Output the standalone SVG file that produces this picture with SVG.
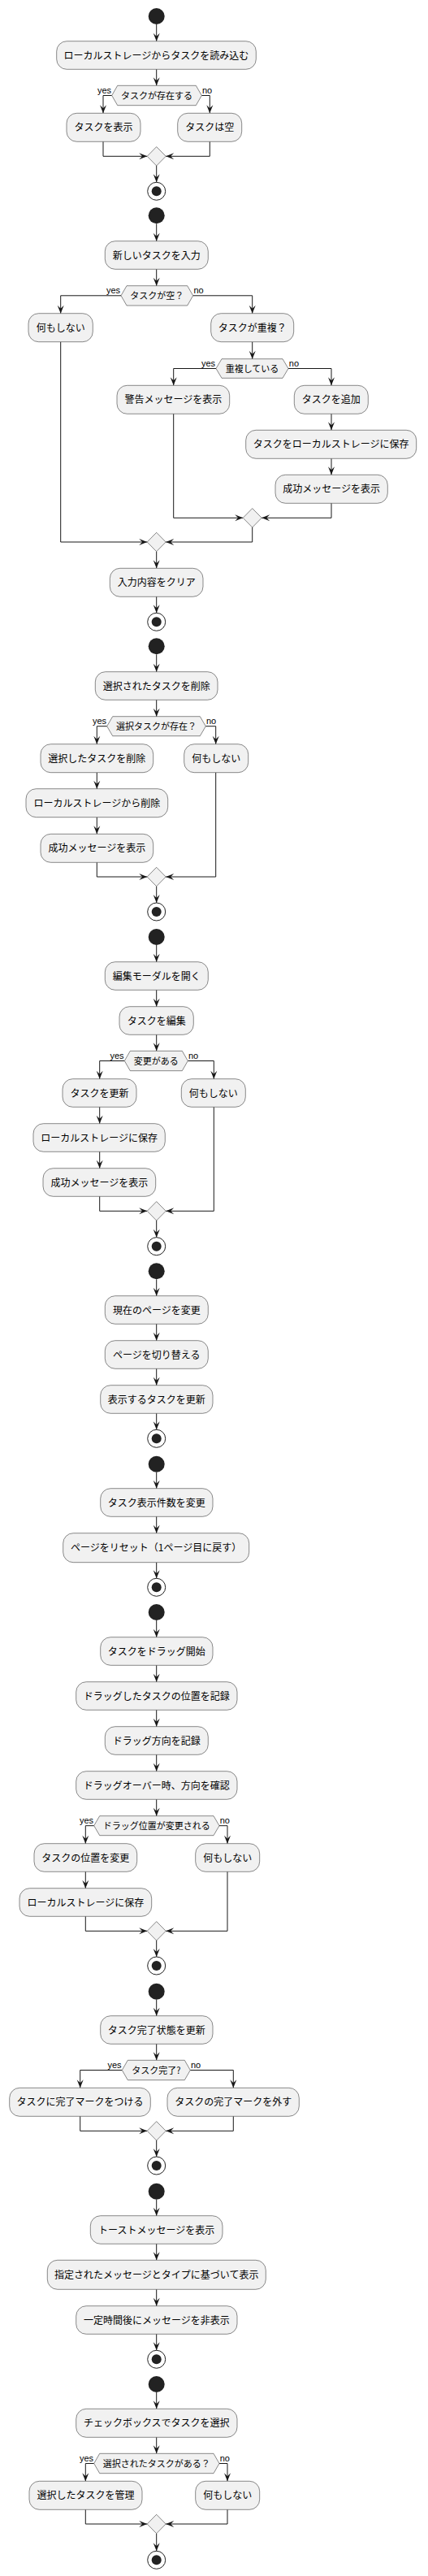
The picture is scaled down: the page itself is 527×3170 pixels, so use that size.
<svg xmlns="http://www.w3.org/2000/svg" width="527" height="3170" viewBox="0 0 527 3170">
<style>
.a{fill:#F1F1F1;stroke:#181818;stroke-width:0.5}
.t{font-family:"Noto Sans CJK JP","Noto Sans",sans-serif;font-size:12px;fill:#000;text-anchor:middle}
.h{font-family:"Noto Sans CJK JP","Noto Sans",sans-serif;font-size:11px;fill:#000;text-anchor:middle}
.l{font-family:"Liberation Sans",Arial,sans-serif;font-size:11px;fill:#000}
.r{text-anchor:end}
.s{fill:#222222}
.e{fill:none;stroke:#222222;stroke-width:1}
.c path{fill:none;stroke:#181818;stroke-width:1;marker-end:url(#ah)}
</style>
<defs>
<marker id="ah" markerUnits="userSpaceOnUse" markerWidth="10" markerHeight="8" refX="10" refY="4" orient="auto" overflow="visible">
<path d="M0,0 L10,4 L0,8 L4,4 Z" fill="#181818"/>
</marker>
</defs>
<g class="c" id="connectors">
<path d="M192.7,30 V50.7"/>
<path d="M192.7,85.3 V105.3"/>
<path d="M137.7,117.5 H127 V139.3"/>
<path d="M248.3,117.5 H258.3 V139.3"/>
<path d="M127,174.3 V192.3 H181.2"/>
<path d="M258.3,174.3 V192.3 H204.2"/>
<path d="M192.7,204 V224.3"/>

<path d="M192.7,275.3 V296.7"/>
<path d="M192.7,331.3 V351.7"/>
<path d="M149,363.8 H74.7 V385.7"/>
<path d="M237.7,363.8 H310.7 V385.7"/>
<path d="M310.7,420.7 V441.7"/>
<path d="M266,453.5 H213.7 V474.3"/>
<path d="M355,453.5 H408 V474.3"/>
<path d="M408,509.3 V529.3"/>
<path d="M408,564.3 V584.3"/>
<path d="M408,619.3 V637.3 H322.2"/>
<path d="M213.7,509.3 V637.3 H299.2"/>
<path d="M310.7,649 V667 H204.2"/>
<path d="M74.7,420.7 V667 H181.2"/>
<path d="M192.7,678.7 V699.3"/>
<path d="M192.7,734.3 V754.3"/>

<path d="M192.7,805.3 V826.7"/>
<path d="M192.7,861.3 V881.7"/>
<path d="M131.7,893.7 H119.3 V915.7"/>
<path d="M253.3,893.7 H265.7 V915.7"/>
<path d="M119.3,950.7 V970.7"/>
<path d="M119.3,1005.7 V1026.3"/>
<path d="M119.3,1061.3 V1079 H181.2"/>
<path d="M265.7,950.7 V1079 H204.2"/>
<path d="M192.7,1090.7 V1111"/>

<path d="M192.7,1163 V1183.7"/>
<path d="M192.7,1218.3 V1238.7"/>
<path d="M192.7,1273.3 V1293.3"/>
<path d="M153.3,1305.5 H122.7 V1327.7"/>
<path d="M231.3,1305.5 H263.3 V1327.7"/>
<path d="M122.7,1362.3 V1382.7"/>
<path d="M122.7,1417.3 V1437.7"/>
<path d="M122.7,1472.3 V1490.3 H181.2"/>
<path d="M263.3,1362.3 V1490.3 H204.2"/>
<path d="M192.7,1502 V1522.7"/>

<path d="M192.7,1574.3 V1594.7"/>
<path d="M192.7,1629.3 V1649.7"/>
<path d="M192.7,1684.3 V1704.7"/>
<path d="M192.7,1739.3 V1759.3"/>

<path d="M192.7,1811.7 V1831.7"/>
<path d="M192.7,1866.3 V1886.7"/>
<path d="M192.7,1922.7 V1942.3"/>

<path d="M192.7,1994 V2014.7"/>
<path d="M192.7,2049.3 V2069.7"/>
<path d="M192.7,2104.3 V2124.7"/>
<path d="M192.7,2159.3 V2179.7"/>
<path d="M192.7,2214.3 V2234.7"/>
<path d="M115.7,2246.7 H105.3 V2268.7"/>
<path d="M270,2246.7 H280 V2268.7"/>
<path d="M105.3,2303.3 V2323.7"/>
<path d="M105.3,2358.3 V2376.3 H181.2"/>
<path d="M280,2303.3 V2376.3 H204.2"/>
<path d="M192.7,2388 V2408"/>

<path d="M192.7,2460.7 V2480.7"/>
<path d="M192.7,2515.3 V2535.3"/>
<path d="M150.3,2547.5 H98.7 V2569.3"/>
<path d="M234.3,2547.5 H287.3 V2569.3"/>
<path d="M98.7,2604.3 V2622.3 H181.2"/>
<path d="M287.3,2604.3 V2622.3 H204.2"/>
<path d="M192.7,2634 V2654"/>

<path d="M192.7,2706.7 V2726.7"/>
<path d="M192.7,2761.3 V2781.3"/>
<path d="M192.7,2817.3 V2837.7"/>
<path d="M192.7,2872.3 V2892.3"/>

<path d="M192.7,2944 V2964.3"/>
<path d="M192.7,2999.3 V3019.3"/>
<path d="M115.7,3031.5 H105.3 V3053.3"/>
<path d="M270,3031.5 H280 V3053.3"/>
<path d="M105.3,3088.3 V3106 H181.2"/>
<path d="M280,3088.3 V3106 H204.2"/>
<path d="M192.7,3117.7 V3139.3"/>
</g>

<!-- Section 1 -->
<g id="s1"><circle class="s" cx="192.7" cy="20" r="10"/></g>
<g id="a1"><rect class="a" x="69.7" y="50.7" width="245.6" height="34.6" rx="12.5"/><text class="t" x="192.5" y="72.6">ローカルストレージからタスクを読み込む</text></g>
<g id="d1"><polygon class="a" points="137.7,117.5 144.7,105.3 241.3,105.3 248.3,117.5 241.3,129.7 144.7,129.7"/><text class="h" x="193" y="121.5">タスクが存在する</text><text class="l r" x="137" y="114.5">yes</text><text class="l" x="249" y="114.5">no</text></g>
<g id="a2"><rect class="a" x="82" y="139.3" width="91" height="35" rx="12.5"/><text class="t" x="127.5" y="161.3">タスクを表示</text></g>
<g id="a3"><rect class="a" x="218.7" y="139.3" width="79" height="35" rx="12.5"/><text class="t" x="258.2" y="161.3">タスクは空</text></g>
<g id="m1"><polygon class="a" points="192.7,180.6 204.2,192.3 192.7,204 181.2,192.3"/></g>
<g id="e1"><circle class="e" cx="192.7" cy="235.3" r="11"/><circle class="s" cx="192.7" cy="235.3" r="6"/></g>

<!-- Section 2 -->
<g id="s2"><circle class="s" cx="192.7" cy="265.3" r="10"/></g>
<g id="a4"><rect class="a" x="129.3" y="296.7" width="127" height="34.6" rx="12.5"/><text class="t" x="192.8" y="318.6">新しいタスクを入力</text></g>
<g id="d2"><polygon class="a" points="149,363.8 156,351.7 230.7,351.7 237.7,363.8 230.7,376 156,376"/><text class="h" x="193.3" y="367.8">タスクが空？</text><text class="l r" x="148" y="360.8">yes</text><text class="l" x="238.5" y="360.8">no</text></g>
<g id="a5"><rect class="a" x="35" y="385.7" width="79.3" height="35" rx="12.5"/><text class="t" x="74.7" y="407.7">何もしない</text></g>
<g id="a6"><rect class="a" x="259.7" y="385.7" width="102" height="35" rx="12.5"/><text class="t" x="310.7" y="407.7">タスクが重複？</text></g>
<g id="d3"><polygon class="a" points="266,453.5 273,441.7 348,441.7 355,453.5 348,465.3 273,465.3"/><text class="h" x="310.5" y="457.5">重複している</text><text class="l r" x="265" y="450.5">yes</text><text class="l" x="355.8" y="450.5">no</text></g>
<g id="a7"><rect class="a" x="144" y="474.3" width="138.7" height="35" rx="12.5"/><text class="t" x="213.4" y="496.3">警告メッセージを表示</text></g>
<g id="a8"><rect class="a" x="362.3" y="474.3" width="91" height="35" rx="12.5"/><text class="t" x="407.8" y="496.3">タスクを追加</text></g>
<g id="a9"><rect class="a" x="302.7" y="529.3" width="210" height="35" rx="12.5"/><text class="t" x="407.7" y="551.3">タスクをローカルストレージに保存</text></g>
<g id="a10"><rect class="a" x="339" y="584.3" width="138.3" height="35" rx="12.5"/><text class="t" x="408.2" y="606.3">成功メッセージを表示</text></g>
<g id="m2"><polygon class="a" points="310.7,625.6 322.2,637.3 310.7,649 299.2,637.3"/></g>
<g id="m3"><polygon class="a" points="192.7,655.3 204.2,667 192.7,678.7 181.2,667"/></g>
<g id="a11"><rect class="a" x="135.3" y="699.3" width="114.7" height="35" rx="12.5"/><text class="t" x="192.7" y="721.3">入力内容をクリア</text></g>
<g id="e2"><circle class="e" cx="192.7" cy="765.3" r="11"/><circle class="s" cx="192.7" cy="765.3" r="6"/></g>

<!-- Section 3 -->
<g id="s3"><circle class="s" cx="192.7" cy="795.3" r="10"/></g>
<g id="a12"><rect class="a" x="117.3" y="826.7" width="150.7" height="34.6" rx="12.5"/><text class="t" x="192.7" y="848.6">選択されたタスクを削除</text></g>
<g id="d4"><polygon class="a" points="131.7,893.7 138.7,881.7 246.3,881.7 253.3,893.7 246.3,905.7 138.7,905.7"/><text class="h" x="192.5" y="897.7">選択タスクが存在？</text><text class="l r" x="131" y="890.7">yes</text><text class="l" x="254" y="890.7">no</text></g>
<g id="a13"><rect class="a" x="50" y="915.7" width="138.7" height="35" rx="12.5"/><text class="t" x="119.3" y="937.7">選択したタスクを削除</text></g>
<g id="a14"><rect class="a" x="226.7" y="915.7" width="79" height="35" rx="12.5"/><text class="t" x="266.2" y="937.7">何もしない</text></g>
<g id="a15"><rect class="a" x="32" y="970.7" width="174.7" height="35" rx="12.5"/><text class="t" x="119.3" y="992.7">ローカルストレージから削除</text></g>
<g id="a16"><rect class="a" x="50" y="1026.3" width="138.7" height="35" rx="12.5"/><text class="t" x="119.3" y="1048.3">成功メッセージを表示</text></g>
<g id="m4"><polygon class="a" points="192.7,1067.3 204.2,1079 192.7,1090.7 181.2,1079"/></g>
<g id="e3"><circle class="e" cx="192.7" cy="1122" r="11"/><circle class="s" cx="192.7" cy="1122" r="6"/></g>

<!-- Section 4 -->
<g id="s4"><circle class="s" cx="192.7" cy="1153" r="10"/></g>
<g id="a17"><rect class="a" x="129.3" y="1183.7" width="127" height="34.6" rx="12.5"/><text class="t" x="192.8" y="1205.6">編集モーダルを開く</text></g>
<g id="a18"><rect class="a" x="147" y="1238.7" width="91.3" height="34.6" rx="12.5"/><text class="t" x="192.7" y="1260.6">タスクを編集</text></g>
<g id="d5"><polygon class="a" points="153.3,1305.5 160.3,1293.3 224.3,1293.3 231.3,1305.5 224.3,1317.7 160.3,1317.7"/><text class="h" x="192.3" y="1309.5">変更がある</text><text class="l r" x="152.6" y="1302.5">yes</text><text class="l" x="232" y="1302.5">no</text></g>
<g id="a19"><rect class="a" x="77" y="1327.7" width="91" height="34.6" rx="12.5"/><text class="t" x="122.5" y="1349.6">タスクを更新</text></g>
<g id="a20"><rect class="a" x="223.3" y="1327.7" width="79" height="34.6" rx="12.5"/><text class="t" x="262.8" y="1349.6">何もしない</text></g>
<g id="a21"><rect class="a" x="41" y="1382.7" width="162.3" height="34.6" rx="12.5"/><text class="t" x="122.2" y="1404.6">ローカルストレージに保存</text></g>
<g id="a22"><rect class="a" x="53" y="1437.7" width="138.7" height="34.6" rx="12.5"/><text class="t" x="122.3" y="1459.6">成功メッセージを表示</text></g>
<g id="m5"><polygon class="a" points="192.7,1478.6 204.2,1490.3 192.7,1502 181.2,1490.3"/></g>
<g id="e4"><circle class="e" cx="192.7" cy="1533.7" r="11"/><circle class="s" cx="192.7" cy="1533.7" r="6"/></g>

<!-- Section 5 -->
<g id="s5"><circle class="s" cx="192.7" cy="1564.3" r="10"/></g>
<g id="a23"><rect class="a" x="129.3" y="1594.7" width="127" height="34.6" rx="12.5"/><text class="t" x="192.8" y="1616.6">現在のページを変更</text></g>
<g id="a24"><rect class="a" x="129.3" y="1649.7" width="127" height="34.6" rx="12.5"/><text class="t" x="192.8" y="1671.6">ページを切り替える</text></g>
<g id="a25"><rect class="a" x="123.7" y="1704.7" width="138.3" height="34.6" rx="12.5"/><text class="t" x="192.8" y="1726.6">表示するタスクを更新</text></g>
<g id="e5"><circle class="e" cx="192.7" cy="1770.3" r="11"/><circle class="s" cx="192.7" cy="1770.3" r="6"/></g>

<!-- Section 6 -->
<g id="s6"><circle class="s" cx="192.7" cy="1801.7" r="10"/></g>
<g id="a26"><rect class="a" x="123.7" y="1831.7" width="138.3" height="34.6" rx="12.5"/><text class="t" x="192.8" y="1853.6">タスク表示件数を変更</text></g>
<g id="a27"><rect class="a" x="77.7" y="1886.7" width="229" height="36" rx="12.5"/><text class="t" x="192.2" y="1909.3">ページをリセット（1ページ目に戻す）</text></g>
<g id="e6"><circle class="e" cx="192.7" cy="1953.3" r="11"/><circle class="s" cx="192.7" cy="1953.3" r="6"/></g>

<!-- Section 7 -->
<g id="s7"><circle class="s" cx="192.7" cy="1984" r="10"/></g>
<g id="a28"><rect class="a" x="123.7" y="2014.7" width="138.3" height="34.6" rx="12.5"/><text class="t" x="192.8" y="2036.6">タスクをドラッグ開始</text></g>
<g id="a29"><rect class="a" x="93.7" y="2069.7" width="198.3" height="34.6" rx="12.5"/><text class="t" x="192.8" y="2091.6">ドラッグしたタスクの位置を記録</text></g>
<g id="a30"><rect class="a" x="129.3" y="2124.7" width="127" height="34.6" rx="12.5"/><text class="t" x="192.8" y="2146.6">ドラッグ方向を記録</text></g>
<g id="a31"><rect class="a" x="93.7" y="2179.7" width="198.3" height="34.6" rx="12.5"/><text class="t" x="192.8" y="2201.6">ドラッグオーバー時、方向を確認</text></g>
<g id="d6"><polygon class="a" points="115.7,2246.7 122.7,2234.7 263,2234.7 270,2246.7 263,2258.7 122.7,2258.7"/><text class="h" x="192.8" y="2250.7">ドラッグ位置が変更される</text><text class="l r" x="115" y="2243.7">yes</text><text class="l" x="270.7" y="2243.7">no</text></g>
<g id="a32"><rect class="a" x="42" y="2268.7" width="126.7" height="34.6" rx="12.5"/><text class="t" x="105.3" y="2290.6">タスクの位置を変更</text></g>
<g id="a33"><rect class="a" x="240.7" y="2268.7" width="79" height="34.6" rx="12.5"/><text class="t" x="280.2" y="2290.6">何もしない</text></g>
<g id="a34"><rect class="a" x="24" y="2323.7" width="162.7" height="34.6" rx="12.5"/><text class="t" x="105.3" y="2345.6">ローカルストレージに保存</text></g>
<g id="m6"><polygon class="a" points="192.7,2364.6 204.2,2376.3 192.7,2388 181.2,2376.3"/></g>
<g id="e7"><circle class="e" cx="192.7" cy="2419" r="11"/><circle class="s" cx="192.7" cy="2419" r="6"/></g>

<!-- Section 8 -->
<g id="s8"><circle class="s" cx="192.7" cy="2450.7" r="10"/></g>
<g id="a35"><rect class="a" x="123.7" y="2480.7" width="138.3" height="34.6" rx="12.5"/><text class="t" x="192.8" y="2502.6">タスク完了状態を更新</text></g>
<g id="d7"><polygon class="a" points="150.3,2547.5 157.3,2535.3 227.3,2535.3 234.3,2547.5 227.3,2559.7 157.3,2559.7"/><text class="h" x="192.3" y="2551.5">タスク完了?</text><text class="l r" x="149.6" y="2544.5">yes</text><text class="l" x="235" y="2544.5">no</text></g>
<g id="a36"><rect class="a" x="11.7" y="2569.3" width="173.6" height="35" rx="12.5"/><text class="t" x="98.5" y="2591.3">タスクに完了マークをつける</text></g>
<g id="a37"><rect class="a" x="206" y="2569.3" width="162.3" height="35" rx="12.5"/><text class="t" x="287.2" y="2591.3">タスクの完了マークを外す</text></g>
<g id="m7"><polygon class="a" points="192.7,2610.6 204.2,2622.3 192.7,2634 181.2,2622.3"/></g>
<g id="e8"><circle class="e" cx="192.7" cy="2665" r="11"/><circle class="s" cx="192.7" cy="2665" r="6"/></g>

<!-- Section 9 -->
<g id="s9"><circle class="s" cx="192.7" cy="2696.7" r="10"/></g>
<g id="a38"><rect class="a" x="111.3" y="2726.7" width="162.7" height="34.6" rx="12.5"/><text class="t" x="192.7" y="2748.6">トーストメッセージを表示</text></g>
<g id="a39"><rect class="a" x="58.3" y="2781.3" width="269" height="36" rx="12.5"/><text class="t" x="192.8" y="2803.9">指定されたメッセージとタイプに基づいて表示</text></g>
<g id="a40"><rect class="a" x="93.7" y="2837.7" width="198.3" height="34.6" rx="12.5"/><text class="t" x="192.8" y="2859.6">一定時間後にメッセージを非表示</text></g>
<g id="e9"><circle class="e" cx="192.7" cy="2903.3" r="11"/><circle class="s" cx="192.7" cy="2903.3" r="6"/></g>

<!-- Section 10 -->
<g id="s10"><circle class="s" cx="192.7" cy="2934" r="10"/></g>
<g id="a41"><rect class="a" x="93.7" y="2964.3" width="198.3" height="35" rx="12.5"/><text class="t" x="192.8" y="2986.3">チェックボックスでタスクを選択</text></g>
<g id="d8"><polygon class="a" points="115.7,3031.5 122.7,3019.3 263,3019.3 270,3031.5 263,3043.7 122.7,3043.7"/><text class="h" x="192.8" y="3035.5">選択されたタスクがある？</text><text class="l r" x="115" y="3028.5">yes</text><text class="l" x="270.7" y="3028.5">no</text></g>
<g id="a42"><rect class="a" x="36" y="3053.3" width="139" height="35" rx="12.5"/><text class="t" x="105.5" y="3075.3">選択したタスクを管理</text></g>
<g id="a43"><rect class="a" x="240.7" y="3053.3" width="79" height="35" rx="12.5"/><text class="t" x="280.2" y="3075.3">何もしない</text></g>
<g id="m8"><polygon class="a" points="192.7,3094.3 204.2,3106 192.7,3117.7 181.2,3106"/></g>
<g id="e10"><circle class="e" cx="192.7" cy="3150.3" r="11"/><circle class="s" cx="192.7" cy="3150.3" r="6"/></g>
</svg>
